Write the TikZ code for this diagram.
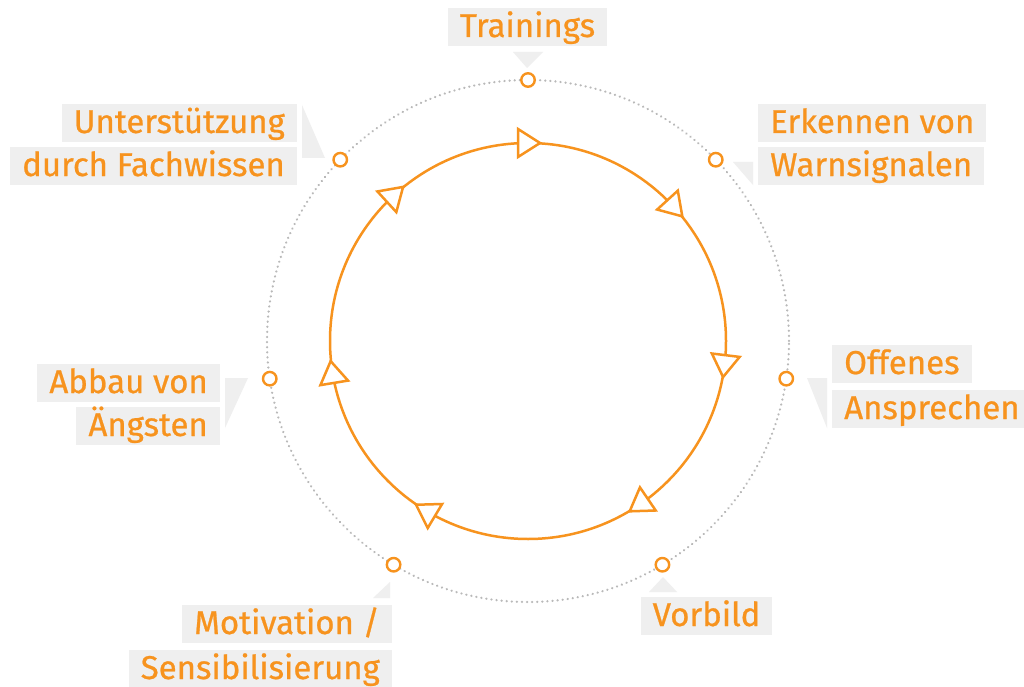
\documentclass[tikz,border=0pt]{standalone}
\usepackage{fontspec}
\usetikzlibrary{calc}
\setmainfont{Fira Sans}
\newfontfamily\lblfont{Fira Sans}[FakeBold=0.7]
\definecolor{cyc}{RGB}{247,147,30}
\definecolor{boxgray}{RGB}{239,239,239}
\definecolor{dotgray}{RGB}{185,185,185}
\tikzset{
  lbl/.style={fill=boxgray, text=cyc, font=\lblfont\fontsize{33}{40}\selectfont,
    inner xsep=12pt, inner ysep=3pt, text height=26pt, text depth=6pt},
  pointer/.style={fill=boxgray, draw=none},
  marker/.style={circle, draw=cyc, fill=white, line width=2.4pt, minimum size=13.5pt, inner sep=0pt},
  cyclearrow/.style={draw=cyc, fill=white, line width=2.5pt, line join=miter},
}
\begin{document}
\begin{tikzpicture}[x=1pt,y=-1pt]
\clip (0,0) rectangle (1024,687);
\fill[white] (0,0) rectangle (1024,687);
\coordinate (c) at (528,341);
% outer dotted circle
\draw[dotgray, line width=2.4pt, dash pattern=on 0.1pt off 5pt, line cap=round] (c) circle[radius=261pt];
% inner cycle
\draw[cyc, line width=2.5pt] (c) circle[radius=198pt];
\foreach \a in {90,42.4,-7,-55.7,-120.9,189.3,132.5}{
  \draw[cyclearrow, shift={($(c)+(\a:198pt)$)}, rotate=\a-90]
    (-10pt,14pt) -- (-10pt,-14pt) -- (12pt,0pt) -- cycle;
}
% pointers
\fill[pointer] (513,52) -- (543,52) -- (527,68) -- cycle;
\fill[pointer] (302,105) -- (302,158) -- (325,158) -- cycle;
\fill[pointer] (733,162) -- (753,162) -- (753,185) -- cycle;
\fill[pointer] (807,378) -- (827,378) -- (827,428) -- cycle;
\fill[pointer] (225,378) -- (248,378) -- (225,428) -- cycle;
\fill[pointer] (373,598) -- (390,598) -- (390,582) -- cycle;
\fill[pointer] (663,577) -- (649,592) -- (677,592) -- cycle;
% markers
\node[marker] (m1) at ($(c)+(90:261pt)$) {};
\node[marker] (m2) at ($(c)+(44:261pt)$) {};
\node[marker] (m3) at ($(c)+(-8.3:261pt)$) {};
\node[marker] (m4) at ($(c)+(-59:261pt)$) {};
\node[marker] (m5) at ($(c)+(-121:261pt)$) {};
\node[marker] (m6) at ($(c)+(188.3:261pt)$) {};
\node[marker] (m7) at ($(c)+(136:261pt)$) {};
% labels
\node[lbl, anchor=base] (t1) at (527.5,37) {Trainings};
\node[lbl, anchor=base west] (e1) at (758,133) {Erkennen von};
\node[lbl, anchor=base west] (e2) at (758,176) {Warnsignalen};
\node[lbl, anchor=base west] (o1) at (832,374) {Offenes};
\node[lbl, anchor=base west] (o2) at (832,419) {Ansprechen};
\node[lbl, anchor=base] (v1) at (706.5,626) {Vorbild};
\node[lbl, anchor=base east] (mo1) at (392,634) {Motivation /};
\node[lbl, anchor=base east] (mo2) at (392,679) {Sensibilisierung};
\node[lbl, anchor=base east] (a1) at (220,393) {Abbau von};
\node[lbl, anchor=base east] (a2) at (220,436) {Ängsten};
\node[lbl, anchor=base east] (u1) at (297,133) {Unterstützung};
\node[lbl, anchor=base east] (u2) at (297,176) {durch Fachwissen};
\end{tikzpicture}
\end{document}
